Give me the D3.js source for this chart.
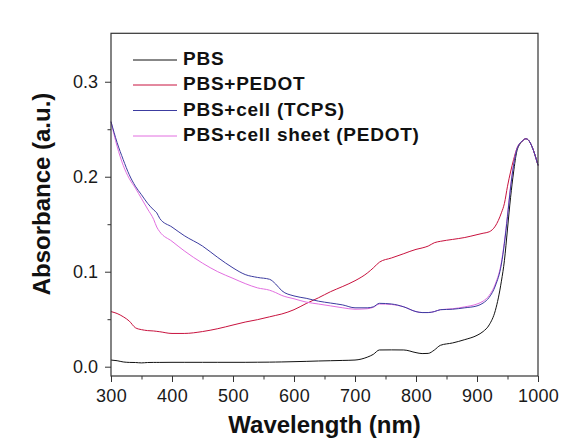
<!DOCTYPE html>
<html><head><meta charset="utf-8">
<script src="https://cdn.jsdelivr.net/npm/d3@7"></script>
<style>
html,body{margin:0;padding:0;background:#fff;}
svg{display:block;font-family:Arial,"Liberation Sans",sans-serif;}
</style></head>
<body><svg id="c" width="578" height="441"></svg>
<script>
const wavelength = [300,310,320,330,340,350,360,370,375,380,400,420,450,475,500,520,540,560,570,580,600,620,640,660,680,700,720,730,740,760,780,800,810,820,830,840,860,880,900,910,920,930,940,945,950,955,960,965,970,975,980,985,990,995,1000];
const pbs = [.007,.0063,.005,.0045,.0044,.004,.0044,.0045,.0045,.0045,.0046,.0046,.0046,.0046,.0046,.0046,.0047,.0048,.0049,.005,.0053,.0056,.006,.0063,.0066,.007,.010,.013,.0176,.0177,.0176,.0148,.0138,.014,.0175,.0225,.025,.0285,.033,.037,.044,.059,.09,.112,.145,.178,.205,.226,.234,.238,.240,.238,.232,.223,.212];
const pbsPedot = [.058,.056,.0526,.048,.041,.039,.038,.0376,.0372,.0368,.035,.035,.037,.040,.0439,.047,.0495,.0525,.054,.0555,.060,.0665,.0725,.079,.0845,.0905,.0985,.104,.110,.1145,.119,.1235,.125,.127,.1305,.132,.134,.136,.139,.1405,.142,.148,.162,.172,.19,.205,.218,.229,.235,.238,.240,.238,.232,.223,.212];
const pbsCellTcps = [.258,.236,.218,.202,.19,.181,.172,.165,.162,.156,.147,.138,.127,.115,.104,.097,.094,.092,.087,.080,.0745,.072,.069,.067,.065,.062,.062,.063,.0667,.066,.063,.058,.057,.057,.058,.060,.0605,.062,.064,.067,.073,.085,.108,.13,.158,.188,.212,.228,.235,.238,.240,.238,.232,.223,.212];
const pbsCellSheet = [.258,.232,.212,.198,.188,.177,.166,.155,.147,.142,.132,.122,.109,.100,.093,.0875,.083,.0805,.078,.075,.0715,.068,.066,.064,.062,.0605,.061,.0625,.066,.0655,.063,.058,.057,.057,.058,.060,.061,.063,.066,.069,.075,.087,.11,.132,.16,.19,.213,.229,.235,.238,.240,.238,.232,.223,.212];
const seriesNames = ["PBS","PBS+PEDOT","PBS+cell (TCPS)","PBS+cell sheet (PEDOT)"];
const seriesValues = [pbs, pbsPedot, pbsCellTcps, pbsCellSheet];
const seriesColors = ["#111111","#c8123e","#3c3ca0","#e26ee0"];
const xTicks = [300,400,500,600,700,800,900,1000];
const xMinor = [350,450,550,650,750,850,950];
const yTicks = [0.0,0.1,0.2,0.3];
const yMinor = [0.05,0.15,0.25];

const svg = d3.select("#c");
const L=111, R=538, T=33.3, B=376;
const x = d3.scaleLinear().domain([300,1000]).range([L,R]);
const y = d3.scaleLinear().domain([-0.0098,0.351]).range([B,T]);

const line = d3.line().x(d=>x(d[0])).y(d=>y(d[1])).curve(d3.curveMonotoneX);
const order = [0,1,3,2];
order.forEach(i=>{
  svg.append("path")
    .datum(wavelength.map((w,j)=>[w,seriesValues[i][j]]))
    .attr("fill","none").attr("stroke",seriesColors[i]).attr("stroke-width",1)
    .attr("d",line);
});

svg.append("rect").attr("x",L).attr("y",T).attr("width",R-L).attr("height",B-T)
  .attr("fill","none").attr("stroke","#333").attr("stroke-width",1.2);

const gx = svg.append("g").attr("transform",`translate(0,${B})`)
  .call(d3.axisBottom(x).tickValues(xTicks).tickSize(6).tickFormat(d3.format("d")));
gx.select(".domain").remove();
gx.selectAll(".tick line").attr("stroke","#333");
gx.selectAll(".tick text").attr("font-size",18).attr("fill","#1a1a1a").attr("dy","0.95em")
  .attr("letter-spacing","0.3px").attr("font-family","Arial, Liberation Sans, sans-serif");
const gxm = svg.append("g").attr("transform",`translate(0,${B})`)
  .call(d3.axisBottom(x).tickValues(xMinor).tickSize(3.5).tickFormat(""));
gxm.select(".domain").remove();
gxm.selectAll(".tick line").attr("stroke","#333");

const gy = svg.append("g").attr("transform",`translate(${L},0)`)
  .call(d3.axisLeft(y).tickValues(yTicks).tickSize(6).tickFormat(d3.format(".1f")));
gy.select(".domain").remove();
gy.selectAll(".tick line").attr("stroke","#333");
gy.selectAll(".tick text").attr("font-size",18).attr("fill","#1a1a1a").attr("x",-13)
  .attr("font-family","Arial, Liberation Sans, sans-serif");
const gym = svg.append("g").attr("transform",`translate(${L},0)`)
  .call(d3.axisLeft(y).tickValues(yMinor).tickSize(3.5).tickFormat(""));
gym.select(".domain").remove();
gym.selectAll(".tick line").attr("stroke","#333");

svg.append("text").attr("x",(L+R)/2).attr("y",433).attr("text-anchor","middle")
  .attr("font-size",24).attr("font-weight","bold").attr("fill","#111").text("Wavelength (nm)");
svg.append("text").attr("transform","translate(50,194) rotate(-90)").attr("text-anchor","middle")
  .attr("font-size",24).attr("font-weight","bold").attr("fill","#111").text("Absorbance (a.u.)");

const legBase = [65,90,115.5,141];
seriesNames.forEach((n,i)=>{
  svg.append("line").attr("x1",133).attr("x2",177).attr("y1",legBase[i]-5).attr("y2",legBase[i]-5)
    .attr("stroke",seriesColors[i]).attr("stroke-width",1);
  svg.append("text").attr("x",183).attr("y",legBase[i]).attr("font-size",19).attr("font-weight","bold")
    .attr("letter-spacing","0.75px").attr("fill","#111").text(n);
});
</script></body></html>
